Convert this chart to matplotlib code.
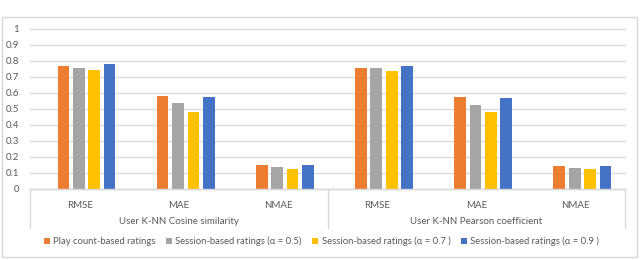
import matplotlib
matplotlib.use("Agg")
import matplotlib.pyplot as plt
from matplotlib.patches import Rectangle, Patch
from matplotlib.lines import Line2D

plt.rcParams['font.family'] = ['Lato', 'DejaVu Sans']

metrics = ["RMSE", "MAE", "NMAE", "RMSE", "MAE", "NMAE"]
groups = ["User K-NN Cosine similarity", "User K-NN Pearson coefficient"]
series_names = ["Play count-based ratings",
                "Session-based ratings (α = 0.5)",
                "Session-based ratings (α = 0.7 )",
                "Session-based ratings (α = 0.9 )"]
play_count = [0.769, 0.583, 0.148, 0.756, 0.575, 0.144]
session_05 = [0.758, 0.535, 0.135, 0.754, 0.527, 0.133]
session_07 = [0.744, 0.483, 0.123, 0.738, 0.479, 0.125]
session_09 = [0.781, 0.577, 0.148, 0.771, 0.567, 0.144]
yticks = [0, 0.1, 0.2, 0.3, 0.4, 0.5, 0.6, 0.7, 0.8, 0.9, 1]
ytick_labels = ["0", "0.1", "0.2", "0.3", "0.4", "0.5", "0.6", "0.7", "0.8", "0.9", "1"]

colors = ["#ED7D31", "#A5A5A5", "#FFC000", "#4472C4"]
series = [play_count, session_05, session_07, session_09]
txt = "#595959"

W, H = 640, 260
fig = plt.figure(figsize=(6.4, 2.6), dpi=100)

# outer chart border
fig.patches.append(Rectangle((2 / W, 1 - 257 / H), 635 / W, 240 / H,
                             transform=fig.transFigure, fill=False,
                             edgecolor="#d9d9d9", linewidth=1))
# clipped caption text at top (only descenders visible, as in the reference)
fig.text(53 / W, 1 + 2.5 / H, "y, respectively", family="Liberation Serif",
         fontsize=11, va="baseline", ha="left", color="#222222")

ax = fig.add_axes([30 / W, 1 - 189 / H, 595 / W, 160 / H])
for s in ax.spines.values():
    s.set_visible(False)

n = len(metrics)
bw = 0.118
step = 0.155
shift = 0.07
for i, (vals, c) in enumerate(zip(series, colors)):
    xs = [k + 0.5 + shift + (i - 1.5) * step for k in range(n)]
    ax.bar(xs, vals, width=bw, color=c, zorder=3)

ax.set_xlim(0, n)
ax.set_ylim(0, 1)
ax.set_yticks(yticks)
ax.set_yticklabels(ytick_labels)
ax.yaxis.grid(True, color="#d9d9d9", linewidth=1)
for gl in ax.yaxis.get_gridlines():
    gl.set_clip_on(False)
ax.set_axisbelow(True)
ax.tick_params(axis="y", length=0, pad=8, labelsize=7, labelcolor=txt)
ax.set_xticks([k + 0.5 for k in range(n)])
ax.set_xticklabels(metrics)
ax.tick_params(axis="x", length=0, pad=9, labelsize=7, labelcolor=txt)

# baseline axis
ax.add_line(Line2D([0, n], [0, 0], color="#d9d9d9", linewidth=1, clip_on=False, zorder=4))
# category separators
yb = -39 / 160
for xv in [0, 3, 6]:
    ax.add_line(Line2D([xv, xv], [0, yb], color="#d9d9d9", linewidth=1,
                       clip_on=False, transform=ax.get_xaxis_transform()))
for gi, g in enumerate(groups):
    ax.text(gi * 3 + 1.5, -(221.7 - 189) / 160, g, transform=ax.get_xaxis_transform(),
            ha="center", va="center", fontsize=7, color=txt)

handles = [Patch(facecolor=c, edgecolor="none") for c in colors]
fig.legend(handles, series_names, loc="center", bbox_to_anchor=(321.5 / W, 1 - 241.7 / H),
           ncol=4, frameon=False, fontsize=6.8, labelcolor=txt,
           handlelength=0.6, handleheight=0.6, handletextpad=0.4, columnspacing=1.1)

fig.savefig("out.png", dpi=100)
